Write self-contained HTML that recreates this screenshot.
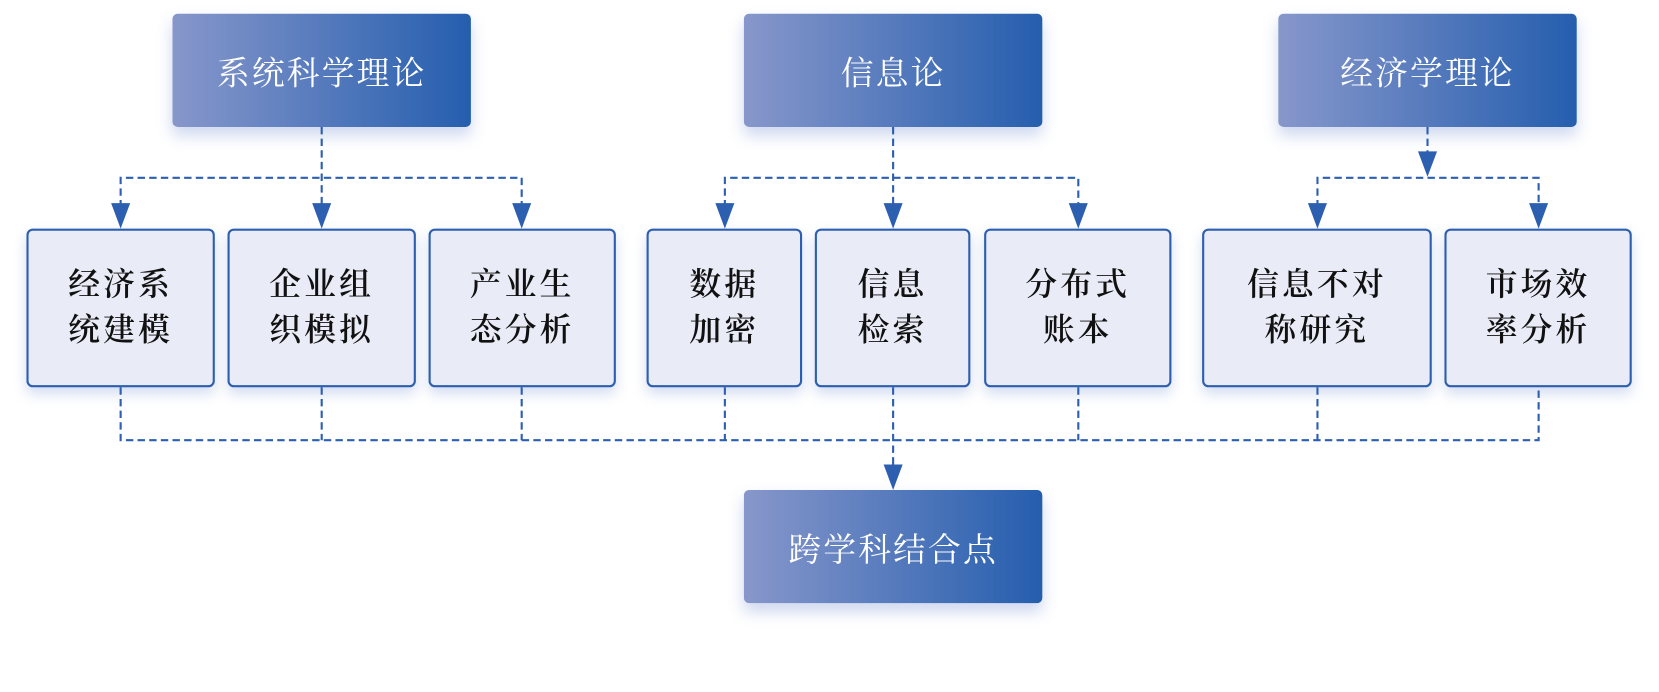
<!DOCTYPE html>
<html><head><meta charset="utf-8"><style>
body{margin:0;width:1659px;height:692px;background:#fff;position:relative;overflow:hidden;font-family:"Liberation Serif","Noto Serif CJK SC",serif;}
#w{position:absolute;left:0;top:0;width:1568px;height:654px;transform:scale(1.0582);transform-origin:0 0;}
.h{position:absolute;height:107px;width:282px;border-radius:5px;background:linear-gradient(90deg,#8797cb,#255eae);color:#fff;font-size:31px;display:flex;align-items:center;justify-content:center;letter-spacing:2px;box-shadow:0 8px 14px rgba(60,100,190,0.25);}
.b{position:absolute;top:216px;height:150px;box-sizing:border-box;border:2px solid #2d5fb0;border-radius:6px;background:#e9ecf6;font-size:30px;font-weight:600;line-height:43px;display:flex;align-items:center;justify-content:center;text-align:center;color:#111;letter-spacing:3px;box-shadow:0 6px 12px rgba(60,100,190,0.22);}
svg{position:absolute;left:0;top:0}
</style></head><body><div id="w">
<div class="h" style="left:163px;top:13px">系统科学理论</div>
<div class="h" style="left:703px;top:13px">信息论</div>
<div class="h" style="left:1208px;top:13px">经济学理论</div>
<div class="h" style="left:703px;top:463px">跨学科结合点</div>
<svg width="1568" height="654">
<g stroke="#2d5fb0" stroke-width="2" stroke-dasharray="7,4" fill="none">
<path d="M304 120V196M114 196V168H493V196"/>
<path d="M844 120V196M685 196V168H1019V196"/>
<path d="M1349 120V150M1245 196V168H1454V196"/>
<path d="M114 366V416H1454V366M304 366V416M493 366V416M685 366V416M844 366V444M1019 366V416M1245 366V416"/>
</g>
<g fill="#2d5fb0">
<path d="M105 192h18l-9 24z"/><path d="M295 192h18l-9 24z"/><path d="M484 192h18l-9 24z"/>
<path d="M676 192h18l-9 24z"/><path d="M835 192h18l-9 24z"/><path d="M1010 192h18l-9 24z"/>
<path d="M1236 192h18l-9 24z"/><path d="M1445 192h18l-9 24z"/>
<path d="M1340 143h18l-9 24z"/><path d="M835 439h18l-9 24z"/>
</g>
</svg>
<div class="b" style="left:25px;width:178px">经济系<br>统建模</div>
<div class="b" style="left:215px;width:178px">企业组<br>织模拟</div>
<div class="b" style="left:405px;width:177px">产业生<br>态分析</div>
<div class="b" style="left:611px;width:147px">数据<br>加密</div>
<div class="b" style="left:770px;width:147px">信息<br>检索</div>
<div class="b" style="left:930px;width:177px">分布式<br>账本</div>
<div class="b" style="left:1136px;width:217px">信息不对<br>称研究</div>
<div class="b" style="left:1365px;width:177px">市场效<br>率分析</div>
</div></body></html>
